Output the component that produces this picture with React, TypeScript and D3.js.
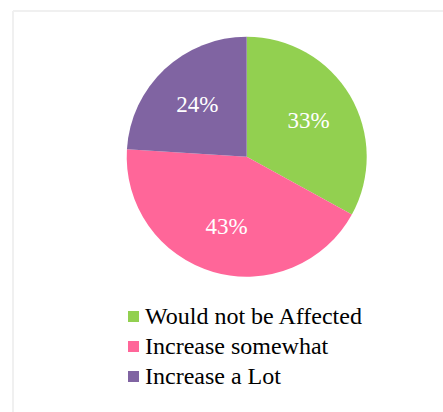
import React from "react";
import * as d3 from "d3";

const categories = ["Would not be Affected", "Increase somewhat", "Increase a Lot"];
const values = [33, 43, 24];
const colors = ["#92D050", "#FF6699", "#8064A2"];

const W = 443;
const H = 412;
const cx = 246.7;
const cy = 156.7;
const R = 120;

export default function App() {
  const pie = d3.pie<number>().sort(null).value((d) => d);
  const arcs = pie(values);
  const arcGen = d3.arc<d3.PieArcDatum<number>>().innerRadius(0).outerRadius(R);
  const labelArc = d3.arc<d3.PieArcDatum<number>>().innerRadius(R * 0.6).outerRadius(R * 0.6);
  const total = d3.sum(values);
  const font = "'Liberation Serif', 'Times New Roman', serif";
  const legendY = d3.scaleBand<string>().domain(categories).range([309, 399]);

  return (
    <svg
      width={W}
      height={H}
      style={{ position: "absolute", left: 0, top: 0, display: "block", background: "#fff" }}
    >
      <line x1={13} y1={11} x2={W} y2={11} stroke="#f0f0f0" strokeWidth={2} />
      <line x1={13} y1={11} x2={13} y2={H} stroke="#f0f0f0" strokeWidth={2} />
      <g transform={`translate(${cx},${cy})`}>
        {arcs.map((a, i) => (
          <path key={i} d={arcGen(a) || ""} fill={colors[i]} />
        ))}
        {arcs.map((a, i) => {
          const [x, y] = labelArc.centroid(a);
          return (
            <text
              key={"l" + i}
              x={x}
              y={y}
              dy="0.35em"
              textAnchor="middle"
              fill="#fff"
              fontFamily={font}
              fontSize={23}
            >
              {Math.round((values[i] / total) * 100)}%
            </text>
          );
        })}
      </g>
      {categories.map((c, i) => {
        const y0 = legendY(c) as number;
        return (
          <g key={"lg" + i}>
            <rect x={128} y={y0 + 2} width={11} height={11} fill={colors[i]} />
            <text x={145} y={y0 + 15} fontFamily={font} fontSize={24} fill="#000">
              {c}
            </text>
          </g>
        );
      })}
    </svg>
  );
}
